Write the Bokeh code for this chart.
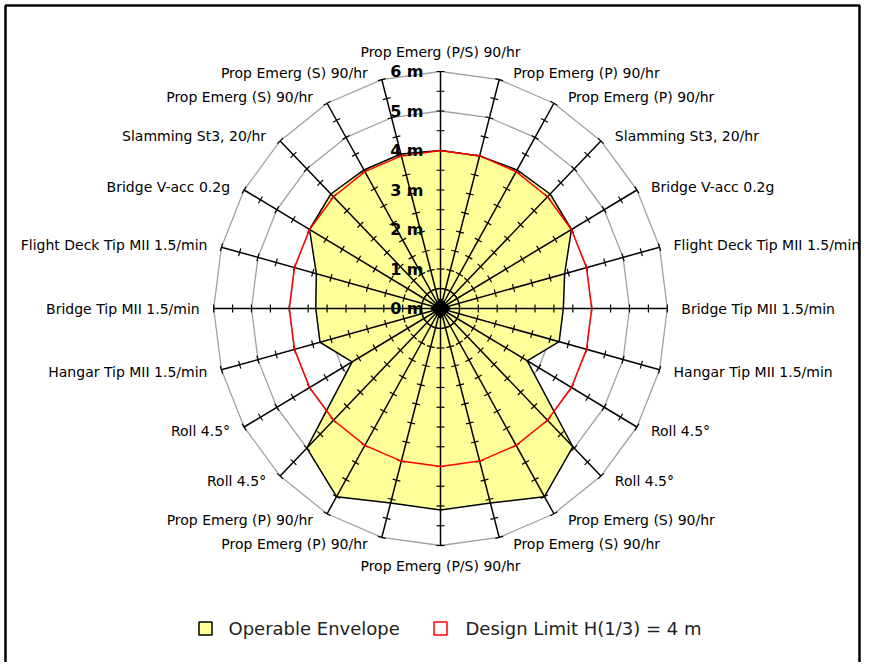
import numpy as np
from bokeh.plotting import figure
from bokeh.models import Range1d, ColumnDataSource
from bokeh.core.properties import value
from bokeh.embed import file_html
from bokeh.resources import INLINE

# ---------------- data ----------------
spoke_labels = [
    "Prop Emerg (P/S) 90/hr", "Prop Emerg (P) 90/hr", "Prop Emerg (P) 90/hr",
    "Slamming St3, 20/hr", "Bridge V-acc 0.2g", "Flight Deck Tip MII 1.5/min",
    "Bridge Tip MII 1.5/min", "Hangar Tip MII 1.5/min", "Roll 4.5°", "Roll 4.5°",
    "Prop Emerg (S) 90/hr", "Prop Emerg (S) 90/hr", "Prop Emerg (P/S) 90/hr",
    "Prop Emerg (P) 90/hr", "Prop Emerg (P) 90/hr", "Roll 4.5°", "Roll 4.5°",
    "Hangar Tip MII 1.5/min", "Bridge Tip MII 1.5/min", "Flight Deck Tip MII 1.5/min",
    "Bridge V-acc 0.2g", "Slamming St3, 20/hr", "Prop Emerg (S) 90/hr", "Prop Emerg (S) 90/hr",
]
envelope_m = [4.0, 4.0, 4.05, 4.1, 4.0, 3.4, 3.25, 3.25, 2.65, 4.95, 5.5, 5.1,
              5.1, 5.1, 5.5, 5.0, 2.7, 3.3, 3.3, 3.4, 4.0, 4.1, 4.05, 4.05]
design_limit_m = 4.0
ring_values = [1, 2, 3, 4, 5, 6]
radial_label_values = [0, 1, 2, 3, 4, 5, 6]
radial_labels = ["0 m", "1 m", "2 m", "3 m", "4 m", "5 m", "6 m"]
tick_values = [0, 0.5, 1, 1.5, 2, 2.5, 3, 3.5, 4, 4.5, 5, 5.5, 6]
legend_labels = ["Operable Envelope", "Design Limit H(1/3) = 4 m"]
r_max = 6

# ---------------- layout ----------------
W, H = 862, 662
CX, CY = 440, 308          # centre in canvas pixels
SX, SY = 37.8, 39.5        # pixels per metre (x, y)

def px_x(x):
    return (x - CX) / SX

def px_y(y):
    return (CY - y) / SY

p = figure(width=W, height=H,
           x_range=Range1d(-CX / SX, (W - CX) / SX),
           y_range=Range1d(-(H - CY) / SY, CY / SY),
           output_backend="svg", toolbar_location=None, min_border=0,
           x_axis_location=None, y_axis_location=None)
p.grid.visible = False
p.outline_line_color = None
p.background_fill_color = "white"
p.border_fill_color = "white"

# outer frame
p.quad(left=[px_x(5)], right=[px_x(859)], top=[px_y(5)], bottom=[px_y(720)],
       fill_color=None, line_color="black", line_width=2.5)

n = len(spoke_labels)
theta = np.arange(n) * 2 * np.pi / n
s, c = np.sin(theta), np.cos(theta)

def closed(r):
    r = np.asarray(r, dtype=float)
    xs = list(r * s) + [r[0] * s[0]]
    ys = list(r * c) + [r[0] * c[0]]
    return xs, ys

# grid rings (polygonal)
ring_xs, ring_ys = [], []
for rv in ring_values:
    xs, ys = closed([rv] * n)
    ring_xs.append(xs); ring_ys.append(ys)
p.multi_line(ring_xs, ring_ys, line_color="#a0a0a0", line_width=1.3)

# envelope fill
ex, ey = closed(envelope_m)
p.patch(ex, ey, fill_color="#FFFF99", line_color=None)

# spokes
p.segment(x0=[0] * n, y0=[0] * n, x1=list(r_max * s), y1=list(r_max * c),
          line_color="black", line_width=1.5)

# ticks on spokes
tx0, ty0, tx1, ty1 = [], [], [], []
half = 4.0
for i in range(n):
    ux, uy = s[i] * SX, c[i] * SY
    L = np.hypot(ux, uy)
    ux, uy = ux / L, uy / L
    pxx, pyy = -uy, ux
    for tv in tick_values:
        x0, y0 = tv * s[i], tv * c[i]
        tx0.append(x0 - half * pxx / SX); ty0.append(y0 - half * pyy / SY)
        tx1.append(x0 + half * pxx / SX); ty1.append(y0 + half * pyy / SY)
p.segment(tx0, ty0, tx1, ty1, line_color="black", line_width=1.2)

# envelope outline
p.line(ex, ey, line_color="black", line_width=1.5)

# design limit
dx, dy = closed([design_limit_m] * n)
p.line(dx, dy, line_color="red", line_width=1.5)

# centre marker
p.scatter([0], [0], marker="square", size=14, angle=np.pi / 4,
          fill_color="black", line_color="black")

# spoke labels
lx, ly, la = [], [], []
for i in range(n):
    ex_, ey_ = r_max * s[i], r_max * c[i]
    if abs(s[i]) < 1e-6:
        lx.append(ex_)
        ly.append(ey_ + np.sign(c[i]) * 20 / SY)
        la.append("center")
    else:
        lx.append(ex_ + np.sign(s[i]) * 14 / SX)
        ly.append(ey_ + 7 * c[i] / SY)
        la.append("left" if s[i] > 0 else "right")
src = ColumnDataSource(dict(x=lx, y=ly, t=spoke_labels, a=la))
p.text(x="x", y="y", text="t", text_align="a", source=src,
       text_baseline="middle", text_font=value("DejaVu Sans"),
       text_font_size="14px", text_color="black")

# radial labels
p.text(x=[-17 / SX] * len(radial_label_values), y=radial_label_values,
       text=radial_labels, text_align="right", text_baseline="middle",
       text_font=value("DejaVu Sans"), text_font_size="16px",
       text_font_style="bold", text_color="black")

# legend (drawn)
leg_y = px_y(628)
p.scatter([px_x(205)], [leg_y], marker="square", size=13,
          fill_color="#FFFF99", line_color="black", line_width=1.5)
p.scatter([px_x(440)], [leg_y], marker="square", size=13,
          fill_color="white", line_color="red", line_width=1.5)
p.text(x=[px_x(228), px_x(465)], y=[leg_y, leg_y], text=legend_labels,
       text_align="left", text_baseline="middle", text_font=value("DejaVu Sans"),
       text_font_size="18px", text_color="#222222")

open("out.html", "w").write(file_html(p, INLINE))
